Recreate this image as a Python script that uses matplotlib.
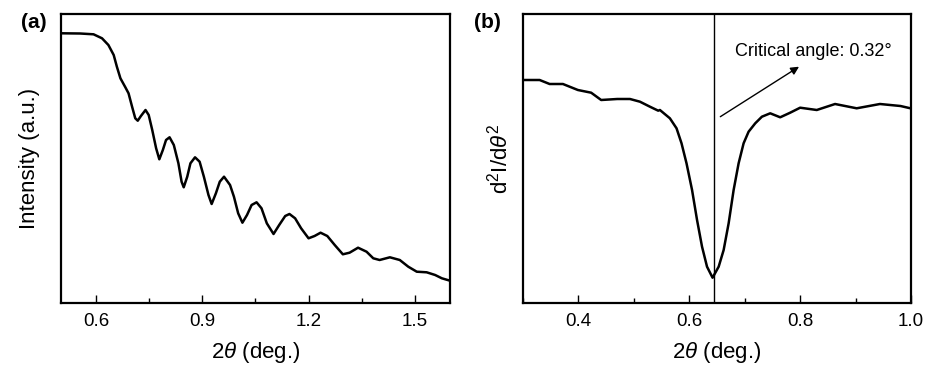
import matplotlib
matplotlib.use("Agg")
import matplotlib.pyplot as plt
from matplotlib.ticker import MultipleLocator

plt.rcParams['font.family'] = ['Liberation Sans', 'DejaVu Sans']
plt.rcParams['mathtext.fontset'] = 'custom'
plt.rcParams['mathtext.rm'] = 'Liberation Sans'
plt.rcParams['mathtext.it'] = 'Liberation Sans:italic'

# Panel (a): XRR intensity curve
a_two_theta = [0.502, 0.554, 0.592, 0.616, 0.634, 0.649, 0.658, 0.668, 0.682, 0.691,
               0.701, 0.710, 0.717, 0.726, 0.739, 0.748, 0.758, 0.769, 0.778, 0.788,
               0.797, 0.807, 0.819, 0.832, 0.841, 0.847, 0.857, 0.866, 0.879, 0.892,
               0.904, 0.917, 0.926, 0.938, 0.949, 0.961, 0.978, 0.989, 1.001, 1.013,
               1.026, 1.039, 1.053, 1.067, 1.082, 1.101, 1.117, 1.134, 1.146, 1.162,
               1.179, 1.200, 1.217, 1.234, 1.253, 1.274, 1.297, 1.316, 1.340, 1.364,
               1.383, 1.401, 1.430, 1.458, 1.482, 1.506, 1.534, 1.558, 1.577, 1.600]
a_intensity = [269.7, 269.5, 268.7, 264.7, 258.0, 248.0, 236.3, 224.7, 215.7, 209.7,
               196.3, 184.7, 182.3, 187.0, 193.0, 188.0, 173.0, 154.7, 143.7, 153.0,
               163.0, 165.7, 158.0, 139.7, 121.3, 115.7, 126.3, 139.7, 145.7, 141.3,
               126.3, 108.0, 99.0, 109.7, 121.3, 126.3, 118.0, 106.3, 89.7, 80.3,
               88.0, 98.0, 100.7, 94.7, 79.7, 69.0, 78.0, 87.0, 89.0, 84.7,
               74.7, 64.7, 67.0, 70.3, 67.0, 58.0, 48.7, 50.3, 55.3, 51.3,
               44.7, 43.0, 45.7, 43.0, 36.3, 31.3, 30.7, 28.0, 24.7, 22.3]

# Panel (b): second derivative
b_two_theta = [0.300, 0.330, 0.348, 0.372, 0.399, 0.423, 0.441, 0.470, 0.493, 0.511,
               0.529, 0.544, 0.547, 0.565, 0.577, 0.586, 0.595, 0.605, 0.614, 0.623,
               0.632, 0.642, 0.653, 0.662, 0.671, 0.680, 0.689, 0.698, 0.707, 0.719,
               0.731, 0.746, 0.764, 0.782, 0.800, 0.830, 0.863, 0.902, 0.944, 0.981,
               0.999]
b_d2 = [223.0, 223.0, 219.0, 219.0, 213.0, 210.3, 203.0, 204.0, 204.0, 201.3,
        196.3, 192.3, 193.0, 184.7, 174.7, 159.7, 139.7, 113.0, 83.0, 56.3,
        36.3, 25.3, 36.3, 53.0, 79.7, 113.0, 139.7, 159.7, 171.3, 179.7,
        186.3, 189.7, 185.7, 190.3, 195.3, 193.0, 199.0, 194.7, 199.0, 197.0,
        194.7]

critical_two_theta = 0.644
annotation_text = "Critical angle: 0.32\u00b0"

W, H = 939, 378
fig = plt.figure(figsize=(W / 100, H / 100), dpi=100)

def px_axes(l, t, r, b):
    return fig.add_axes([l / W, 1 - b / H, (r - l) / W, (b - t) / H])

ax1 = px_axes(61, 14, 450, 303)
ax2 = px_axes(523, 14, 911, 303)

lw_spine = 1.6
for ax in (ax1, ax2):
    for s in ax.spines.values():
        s.set_linewidth(lw_spine)
    ax.set_yticks([])
    ax.tick_params(axis='x', which='major', direction='in', length=6, width=1.0,
                   labelsize=13.5, pad=7, top=False)
    ax.tick_params(axis='x', which='minor', direction='in', length=3.5, width=1.0, top=False)
    ax.set_ylim(0, 289)

ax1.plot(a_two_theta, a_intensity, color='black', lw=1.8, solid_joinstyle='round')
ax1.set_xlim(0.5, 1.6)
ax1.xaxis.set_minor_locator(MultipleLocator(0.15))
ax1.set_xticks([0.6, 0.9, 1.2, 1.5])
ax1.set_xticklabels(['0.6', '0.9', '1.2', '1.5'])
ax1.set_xlabel(r"2$\theta$ (deg.)", fontsize=16)
ax1.set_ylabel("Intensity (a.u.)", fontsize=16)
ax1.xaxis.set_label_coords(0.5, -0.128)
ax1.yaxis.set_label_coords(-0.054, 0.5)

ax2.plot(b_two_theta, b_d2, color='black', lw=1.8, solid_joinstyle='round')
ax2.axvline(critical_two_theta, color='black', lw=1.0)
ax2.set_xlim(0.3, 1.0)
ax2.xaxis.set_minor_locator(MultipleLocator(0.1))
ax2.set_xticks([0.4, 0.6, 0.8, 1.0])
ax2.set_xticklabels(['0.4', '0.6', '0.8', '1.0'])
ax2.set_xlabel(r"2$\theta$ (deg.)", fontsize=16)
ax2.set_ylabel(r"d$^2$I/d$\theta^2$", fontsize=16)
ax2.xaxis.set_label_coords(0.5, -0.128)
ax2.yaxis.set_label_coords(-0.027, 0.5)

ax2.annotate("", xy=(0.798, 236.3), xytext=(0.656, 186.3),
             arrowprops=dict(arrowstyle='-|>', color='black', lw=1.0,
                             mutation_scale=12, shrinkA=0, shrinkB=0))
ax2.text(0.683, 251.3, annotation_text, fontsize=13, ha='left', va='center')

fig.text(34 / W, 1 - 23 / H, "(a)", fontsize=15, fontweight='bold', ha='center', va='center')
fig.text(487 / W, 1 - 23 / H, "(b)", fontsize=15, fontweight='bold', ha='center', va='center')

fig.savefig("out.png", dpi=100)
